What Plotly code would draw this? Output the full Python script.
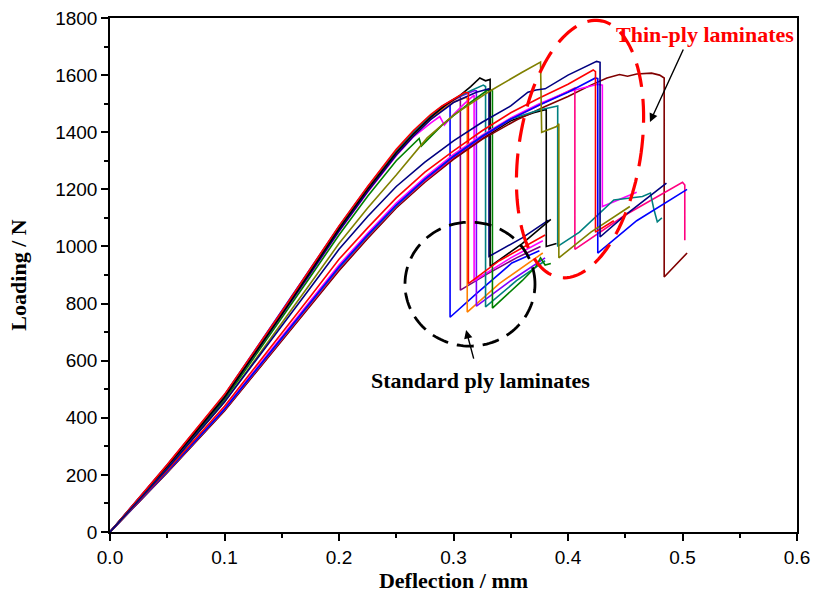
import numpy as np
import plotly.graph_objects as go

# ---- Load–deflection curves (deflection in mm, load in N) ----
# Standard ply laminates
std_blue_x = [0, 0.05, 0.1, 0.15, 0.175, 0.2, 0.225, 0.25, 0.265, 0.28, 0.29, 0.295, 0.297, 0.297, 0.32, 0.351, 0.375]
std_blue_y = [0, 235, 480, 772, 922, 1070, 1208, 1335, 1400, 1456, 1488, 1498, 1500, 752, 835, 942, 985]

std_purple_x = [0, 0.05, 0.1, 0.15, 0.175, 0.2, 0.225, 0.25, 0.265, 0.28, 0.29, 0.3, 0.306, 0.306, 0.33, 0.355, 0.376]
std_purple_y = [0, 232, 475, 765, 914, 1062, 1200, 1328, 1394, 1450, 1484, 1512, 1525, 847, 905, 960, 1000]

std_orange_x = [0, 0.05, 0.1, 0.15, 0.175, 0.2, 0.225, 0.25, 0.265, 0.28, 0.29, 0.3, 0.311, 0.312, 0.312, 0.34, 0.378]
std_orange_y = [0, 231, 472, 762, 911, 1058, 1196, 1324, 1390, 1446, 1480, 1506, 1522, 1518, 770, 870, 977]

std_violet_x = [0, 0.05, 0.1, 0.15, 0.175, 0.2, 0.225, 0.25, 0.265, 0.28, 0.29, 0.3, 0.31, 0.318, 0.32, 0.32, 0.35, 0.38]
std_violet_y = [0, 234, 478, 768, 918, 1068, 1206, 1336, 1402, 1458, 1490, 1515, 1532, 1545, 1545, 791, 880, 960]

std_magenta_x = [0, 0.05, 0.1, 0.15, 0.175, 0.2, 0.225, 0.25, 0.265, 0.28, 0.288, 0.292, 0.3, 0.31, 0.318, 0.318, 0.35, 0.378]
std_magenta_y = [0, 228, 468, 755, 903, 1052, 1190, 1318, 1384, 1432, 1455, 1425, 1462, 1502, 1530, 880, 960, 1020]

std_cyan_x = [0, 0.05, 0.1, 0.15, 0.175, 0.2, 0.225, 0.25, 0.265, 0.28, 0.29, 0.3, 0.315, 0.326, 0.328, 0.328, 0.355, 0.38]
std_cyan_y = [0, 233, 476, 766, 916, 1066, 1204, 1334, 1400, 1458, 1490, 1515, 1545, 1565, 1560, 788, 880, 950]

std_green_x = [0, 0.05, 0.1, 0.15, 0.175, 0.2, 0.225, 0.25, 0.27, 0.272, 0.29, 0.3, 0.315, 0.33, 0.334, 0.334, 0.36, 0.372, 0.376, 0.38, 0.385]
std_green_y = [0, 226, 462, 748, 894, 1040, 1176, 1300, 1378, 1352, 1425, 1458, 1505, 1548, 1545, 784, 880, 930, 960, 935, 940]

std_navy_x = [0, 0.05, 0.1, 0.15, 0.175, 0.2, 0.225, 0.25, 0.265, 0.28, 0.3, 0.32, 0.331, 0.331, 0.36, 0.383]
std_navy_y = [0, 229, 470, 758, 906, 1054, 1192, 1320, 1386, 1444, 1504, 1540, 1552, 965, 1030, 1092]

std_black_x = [0, 0.05, 0.1, 0.15, 0.175, 0.2, 0.225, 0.25, 0.265, 0.28, 0.293, 0.306, 0.315, 0.323, 0.328, 0.332, 0.332, 0.36, 0.385]
std_black_y = [0, 230, 472, 762, 912, 1062, 1200, 1328, 1394, 1452, 1495, 1530, 1560, 1590, 1580, 1585, 930, 1010, 1095]

std_red_x = [0, 0.05, 0.1, 0.15, 0.175, 0.2, 0.225, 0.25, 0.265, 0.28, 0.29, 0.3, 0.31, 0.313, 0.313, 0.34, 0.38]
std_red_y = [0, 236, 482, 772, 922, 1072, 1210, 1340, 1406, 1462, 1492, 1515, 1540, 1538, 870, 950, 1040]

# Thin-ply laminates
thin_navy_x = [0, 0.05, 0.1, 0.15, 0.175, 0.2, 0.225, 0.25, 0.275, 0.3, 0.325, 0.35, 0.365, 0.372, 0.38, 0.4, 0.415, 0.425, 0.428, 0.428, 0.45, 0.486]
thin_navy_y = [0, 222, 455, 720, 855, 990, 1105, 1210, 1295, 1370, 1435, 1492, 1540, 1548, 1552, 1600, 1630, 1648, 1645, 1033, 1110, 1222]

thin_red_x = [0, 0.05, 0.1, 0.15, 0.175, 0.2, 0.225, 0.25, 0.275, 0.3, 0.325, 0.35, 0.375, 0.4, 0.422, 0.424, 0.424, 0.44]
thin_red_y = [0, 216, 440, 695, 825, 955, 1065, 1170, 1260, 1335, 1405, 1468, 1520, 1568, 1618, 1612, 1050, 1090]

thin_blue_x = [0, 0.05, 0.1, 0.15, 0.175, 0.2, 0.225, 0.25, 0.275, 0.3, 0.325, 0.35, 0.375, 0.4, 0.424, 0.426, 0.426, 0.46, 0.504]
thin_blue_y = [0, 212, 430, 678, 803, 928, 1040, 1145, 1236, 1315, 1385, 1446, 1495, 1540, 1590, 1588, 977, 1090, 1200]

thin_wine_x = [0, 0.05, 0.1, 0.15, 0.175, 0.2, 0.225, 0.25, 0.275, 0.3, 0.325, 0.355, 0.38, 0.4, 0.42, 0.434, 0.445, 0.452, 0.46, 0.473, 0.48, 0.484, 0.484, 0.504]
thin_wine_y = [0, 208, 424, 668, 792, 915, 1028, 1135, 1225, 1305, 1375, 1443, 1490, 1525, 1565, 1590, 1602, 1596, 1604, 1607, 1600, 1590, 893, 977]

thin_magenta_x = [0, 0.05, 0.1, 0.15, 0.175, 0.2, 0.225, 0.25, 0.275, 0.3, 0.325, 0.35, 0.375, 0.4, 0.426, 0.43, 0.43, 0.46]
thin_magenta_y = [0, 214, 434, 684, 810, 935, 1046, 1152, 1242, 1322, 1390, 1450, 1500, 1542, 1568, 1565, 1140, 1190]

thin_pink_x = [0, 0.05, 0.1, 0.15, 0.175, 0.2, 0.225, 0.25, 0.275, 0.3, 0.325, 0.35, 0.375, 0.39, 0.406, 0.406, 0.45, 0.5, 0.502, 0.502]
thin_pink_y = [0, 210, 428, 674, 798, 922, 1034, 1140, 1230, 1312, 1382, 1445, 1495, 1525, 1555, 990, 1110, 1225, 1215, 1022]

thin_cyan_x = [0, 0.05, 0.1, 0.15, 0.175, 0.2, 0.225, 0.25, 0.275, 0.3, 0.325, 0.35, 0.375, 0.391, 0.391, 0.41, 0.44, 0.465, 0.472, 0.475, 0.478, 0.482]
thin_cyan_y = [0, 211, 430, 676, 800, 925, 1037, 1142, 1234, 1316, 1386, 1446, 1478, 1492, 1000, 1050, 1163, 1175, 1187, 1130, 1086, 1100]

thin_olive_x = [0, 0.05, 0.1, 0.15, 0.175, 0.2, 0.225, 0.25, 0.277, 0.3, 0.33, 0.36, 0.376, 0.377, 0.39, 0.392, 0.392, 0.42, 0.454]
thin_olive_y = [0, 222, 455, 730, 870, 1010, 1135, 1250, 1380, 1460, 1540, 1610, 1646, 1400, 1420, 1430, 960, 1050, 1140]

thin_black_x = [0, 0.05, 0.1, 0.15, 0.175, 0.2, 0.225, 0.25, 0.275, 0.3, 0.325, 0.35, 0.37, 0.381, 0.381, 0.39]
thin_black_y = [0, 209, 426, 670, 794, 918, 1030, 1137, 1228, 1308, 1378, 1440, 1468, 1480, 1000, 1010]

curves = [
    (std_blue_x, std_blue_y, "#0000ff"),
    (std_purple_x, std_purple_y, "#800080"),
    (std_orange_x, std_orange_y, "#ff8000"),
    (std_violet_x, std_violet_y, "#8000ff"),
    (std_magenta_x, std_magenta_y, "#ff00ff"),
    (std_cyan_x, std_cyan_y, "#008080"),
    (std_green_x, std_green_y, "#008000"),
    (std_navy_x, std_navy_y, "#000080"),
    (std_black_x, std_black_y, "#000000"),
    (std_red_x, std_red_y, "#ff0000"),
    (thin_black_x, thin_black_y, "#000000"),
    (thin_wine_x, thin_wine_y, "#800000"),
    (thin_pink_x, thin_pink_y, "#ff0080"),
    (thin_magenta_x, thin_magenta_y, "#ff00ff"),
    (thin_cyan_x, thin_cyan_y, "#008080"),
    (thin_blue_x, thin_blue_y, "#0000ff"),
    (thin_red_x, thin_red_y, "#ff0000"),
    (thin_olive_x, thin_olive_y, "#808000"),
    (thin_navy_x, thin_navy_y, "#000080"),
]

fig = go.Figure()
for xs, ys, col in curves:
    fig.add_trace(go.Scatter(x=xs, y=ys, mode="lines",
                             line=dict(color=col, width=1.6),
                             showlegend=False, hoverinfo="skip"))

X_RANGE = [0, 0.6]
Y_RANGE = [0, 1800]


def ellipse_path(cx, cy, rx_px, ry_px, angle_deg, n=140):
    """Closed SVG path (data units) of an ellipse whose radii are given in screen pixels."""
    t = np.linspace(0, 2 * np.pi, n)
    a = np.deg2rad(angle_deg)
    sx, sy = 1145.0, 1.0 / 3.502  # screen px per data unit on x and y
    u = rx_px * np.cos(t)
    v = ry_px * np.sin(t)
    ur = u * np.cos(a) - v * np.sin(a)
    vr = u * np.sin(a) + v * np.cos(a)
    xs = cx + ur / sx
    ys = cy + vr / sy
    pts = " L ".join(f"{x:.5f},{y:.2f}" for x, y in zip(xs, ys))
    return "M " + pts + " Z"


# dashed outlines grouping the two laminate families
fig.add_shape(type="path", path=ellipse_path(0.4105, 1341, 61, 130, -9),
              line=dict(color="#ff0000", width=3.2, dash="24px,12px"))
fig.add_shape(type="path", path=ellipse_path(0.3144, 868, 65, 62, 0),
              line=dict(color="#000000", width=2.8, dash="17px,9px"))

fig.add_annotation(x=0.4716, y=1436, ax=34, ay=-74, xref="x", yref="y",
                   showarrow=True, arrowhead=2, arrowsize=1.2, arrowwidth=1.4,
                   arrowcolor="#000000", text="")
fig.add_annotation(x=0.311, y=707, ax=8, ay=30, xref="x", yref="y",
                   showarrow=True, arrowhead=2, arrowsize=1.2, arrowwidth=1.4,
                   arrowcolor="#000000", text="")
fig.add_annotation(x=0.5197, y=1742, xref="x", yref="y", showarrow=False,
                   text="<b>Thin-ply laminates</b>",
                   font=dict(family="Liberation Serif", size=22, color="#ff0000"))
fig.add_annotation(x=0.324, y=529, xref="x", yref="y", showarrow=False,
                   text="<b>Standard ply laminates</b>",
                   font=dict(family="Liberation Serif", size=22, color="#000000"))

axis_common = dict(showgrid=False, zeroline=False, showline=True, linecolor="#000000",
                   linewidth=1.5, mirror=True, ticks="outside", ticklen=7,
                   tickwidth=1.5, tickcolor="#000000", automargin=False,
                   tickfont=dict(family="Liberation Sans", size=19, color="#000000"))

fig.update_xaxes(range=X_RANGE, dtick=0.1, tickformat=".1f",
                 minor=dict(dtick=0.05, ticks="outside", ticklen=4, tickwidth=1.5,
                            tickcolor="#000000"),
                 title=dict(text="<b>Deflection / mm</b>", standoff=4,
                            font=dict(family="Liberation Serif", size=22, color="#000000")),
                 **axis_common)
fig.update_yaxes(range=Y_RANGE, dtick=200,
                 minor=dict(dtick=100, ticks="outside", ticklen=4, tickwidth=1.5,
                            tickcolor="#000000"),
                 title=dict(text="<b>Loading / N</b>", standoff=22,
                            font=dict(family="Liberation Serif", size=22, color="#000000")),
                 **axis_common)

fig.update_layout(width=813, height=594, margin=dict(l=110, r=16, t=18, b=62),
                  paper_bgcolor="#ffffff", plot_bgcolor="#ffffff")

fig.write_html("out.html")
